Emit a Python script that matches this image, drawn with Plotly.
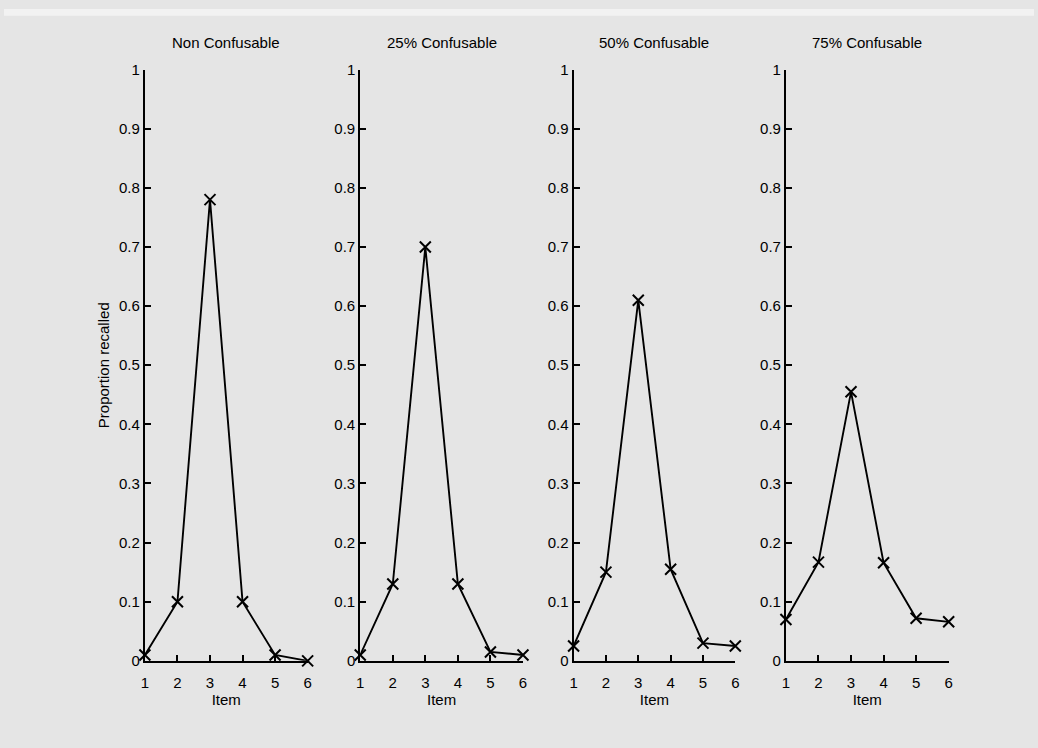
import plotly.graph_objects as go

# Serial-position recall data, one series per confusability condition
items = [1, 2, 3, 4, 5, 6]
titles = ["Non Confusable", "25% Confusable", "50% Confusable", "75% Confusable"]
non_confusable = [0.01, 0.10, 0.78, 0.10, 0.01, 0.0]
conf_25 = [0.01, 0.13, 0.70, 0.13, 0.015, 0.01]
conf_50 = [0.025, 0.15, 0.61, 0.155, 0.03, 0.025]
conf_75 = [0.07, 0.167, 0.455, 0.166, 0.072, 0.066]
series = [non_confusable, conf_25, conf_50, conf_75]

y_ticks = [i / 10 for i in range(11)]
y_ticktext = ["0"] + [f"{v:.1f}" for v in y_ticks[1:-1]] + ["1"]

W, H = 1038, 748
x_px = [(142, 306), (359, 523), (574, 737), (788, 952)]
y_dom = [(748 - 667) / H, (748 - 62) / H]

FONT = "Liberation Sans, Arial, Helvetica, sans-serif"
FS = 15
fig = go.Figure()

for i, (vals, title) in enumerate(zip(series, titles)):
    n = "" if i == 0 else str(i + 1)
    fig.add_trace(go.Scatter(
        x=items, y=vals, mode="lines+markers",
        line=dict(color="black", width=1.9),
        marker=dict(symbol="x-thin", size=11, line=dict(color="black", width=2)),
        cliponaxis=False, showlegend=False,
        xaxis="x" + n, yaxis="y" + n,
    ))
    x0, x1 = x_px[i]
    fig.layout["xaxis" + n] = dict(
        domain=[x0 / W, x1 / W], anchor="y" + n, range=[1, 6],
        tickvals=items, ticks="inside", ticklen=6, tickwidth=1.5,
        tickcolor="black", showline=True, linecolor="black", linewidth=2,
        showgrid=False, zeroline=False, mirror=False, ticklabelstandoff=7,
        tickfont=dict(size=FS, color="black", family=FONT),
        title=dict(text="Item", font=dict(size=FS, color="black", family=FONT), standoff=4),
    )
    fig.layout["yaxis" + n] = dict(
        domain=y_dom, anchor="x" + n, range=[0, 1],
        tickvals=y_ticks, ticktext=y_ticktext, ticks="inside", ticklen=6,
        tickwidth=1.5, tickcolor="black", showline=True, linecolor="black",
        linewidth=2, showgrid=False, zeroline=False, mirror=False,
        tickfont=dict(size=FS, color="black", family=FONT),
        title=dict(text="Proportion recalled" if i == 0 else "",
                   font=dict(size=FS, color="black", family=FONT), standoff=6),
    )
    fig.add_annotation(
        x=(x0 + x1) / 2 / W, y=(748 - 34) / H, xref="paper", yref="paper",
        text=title, showarrow=False, xanchor="center", yanchor="middle",
        font=dict(size=FS, color="black", family=FONT),
    )

# light strip along the top edge of the page
fig.add_shape(type="rect", xref="paper", yref="paper", x0=0, x1=1,
              y0=1 - 7 / H, y1=1, fillcolor="#f2f2f2", line_width=0, layer="below")

fig.update_layout(
    width=W, height=H, margin=dict(l=0, r=0, t=0, b=0),
    paper_bgcolor="#e5e5e5", plot_bgcolor="rgba(0,0,0,0)",
    font=dict(family=FONT, color="black"),
)

fig.write_html("out.html")
